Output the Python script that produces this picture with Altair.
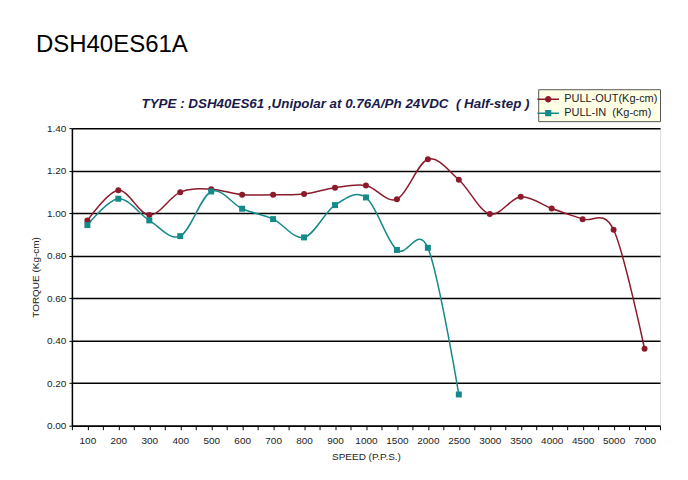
import altair as alt
import pandas as pd
import math

speeds = ["100", "200", "300", "400", "500", "600", "700", "800", "900", "1000",
          "1500", "2000", "2500", "3000", "3500", "4000", "4500", "5000", "7000"]
pull_out = [0.965, 1.108, 0.991, 1.099, 1.113, 1.087, 1.087, 1.090, 1.120, 1.130,
            1.066, 1.254, 1.157, 0.996, 1.077, 1.022, 0.972, 0.922, 0.362]
pull_in = [0.944, 1.068, 0.966, 0.892, 1.102, 1.021, 0.972, 0.886, 1.038, 1.074,
           0.827, 0.837, 0.147]
series_names = ["PULL-OUT(Kg-cm)", "PULL-IN\u00a0 (Kg-cm)"]
series_colors = ["#8B1A2B", "#168A8A"]
title_text = "DSH40ES61A"
subtitle_text = "TYPE : DSH40ES61 ,Unipolar at 0.76A/Ph 24VDC\u00a0 ( Half-step )"


def circle_path(r, k=16):
    pts = []
    for j in range(k):
        a = 2 * math.pi * j / k
        pts.append(f"{r * math.cos(a):.3f},{r * math.sin(a):.3f}")
    return "M" + "L".join(pts) + "Z"


def square_path(h):
    return f"M{-h:.3f},{-h:.3f}L{h:.3f},{-h:.3f}L{h:.3f},{h:.3f}L{-h:.3f},{h:.3f}Z"


# legend glyphs: a line with a (solid-looking) marker made of nested outlines
legend_paths = [
    "M-1.55,0L1.55,0" + "".join(circle_path(r) for r in (0.36, 0.26, 0.16, 0.06)),
    "M-1.55,0L1.55,0" + "".join(square_path(h) for h in (0.34, 0.24, 0.14, 0.05)),
]

rows = []
for i, v in enumerate(pull_out):
    rows.append({"idx": i, "speed": speeds[i], "value": v, "series": series_names[0]})
for i, v in enumerate(pull_in):
    rows.append({"idx": i, "speed": speeds[i], "value": v, "series": series_names[1]})
df = pd.DataFrame(rows)

n = len(speeds)
label_arr = "[" + ",".join("'" + s + "'" for s in speeds) + "]"
tick_vals = [k / 2 for k in range(-1, 2 * n)]

font = "Liberation Sans"

x_enc = alt.X("idx:Q",
              scale=alt.Scale(domain=[-0.5, n - 0.5], nice=False, zero=False),
              axis=alt.Axis(values=tick_vals, tickCount=len(tick_vals) + 2,
                            labelExpr=f"datum.value % 1 === 0 ? {label_arr}[datum.value] : ''",
                            title="SPEED (P.P.S.)", grid=False, tickSize=4,
                            tickColor="black", domainColor="black", domainWidth=1.5,
                            labelOverlap=False, labelFlush=False, labelPadding=6,
                            labelFont=font, labelFontSize=10, labelColor="#222",
                            titleFont=font, titleFontSize=10, titleFontWeight="normal",
                            titleColor="#222", titlePadding=6))
y_enc = alt.Y("value:Q",
              scale=alt.Scale(domain=[0, 1.4], nice=False),
              axis=alt.Axis(values=[0, 0.2, 0.4, 0.6, 0.8, 1.0, 1.2, 1.4], format=".2f",
                            title="TORQUE (Kg-cm)", grid=True, gridColor="black",
                            gridWidth=1.5, tickSize=3, tickColor="black",
                            domainColor="black", domainWidth=1.5, labelPadding=3,
                            labelFont=font, labelFontSize=10, labelColor="#222",
                            titleFont=font, titleFontSize=10, titleFontWeight="normal",
                            titleColor="#222", titlePadding=6))
color_enc = alt.Color("series:N", scale=alt.Scale(domain=series_names, range=series_colors),
                      legend=None)

base = alt.Chart(df)

lines = base.mark_line(interpolate="cardinal", strokeWidth=1.5).encode(
    x=x_enc, y=y_enc, color=color_enc, detail="series:N")

pts_out = base.transform_filter(alt.datum.series == series_names[0]).mark_point(
    shape="circle", filled=True, size=36, opacity=1).encode(x="idx:Q", y="value:Q", color=color_enc)
pts_in = base.transform_filter(alt.datum.series == series_names[1]).mark_point(
    shape="square", filled=True, size=36, opacity=1).encode(x="idx:Q", y="value:Q", color=color_enc)

legend_layer = base.mark_point(filled=True, opacity=0).encode(
    x="idx:Q", y="value:Q",
    fill=alt.Fill("series:N", scale=alt.Scale(domain=series_names, range=series_colors),
                  legend=alt.Legend(title=None, orient="none", legendX=467, legendY=-39,
                                    fillColor="#FFFFE6", strokeColor="#555", padding=2,
                                    labelFont=font, labelFontSize=11, labelColor="#222",
                                    symbolSize=196, symbolStrokeWidth=1.5, labelOffset=8,
                                    rowPadding=0, symbolOpacity=1)),
    stroke=alt.Stroke("series:N", scale=alt.Scale(domain=series_names, range=series_colors)),
    shape=alt.Shape("series:N", scale=alt.Scale(domain=series_names, range=legend_paths)),
)

texts = alt.Chart(pd.DataFrame({"t": [title_text]})).mark_text(
    align="left", baseline="alphabetic", font=font, fontSize=24, color="black"
).encode(x=alt.value(-36), y=alt.value(-76), text="t:N")

sub = alt.Chart(pd.DataFrame({"t": [subtitle_text]})).mark_text(
    align="center", baseline="alphabetic", font=font, fontSize=13.4, fontWeight="bold",
    fontStyle="italic", color="#1A1A4A"
).encode(x=alt.value(264), y=alt.value(-20), text="t:N")

chart = alt.layer(legend_layer, lines, pts_out, pts_in, texts, sub).properties(
    width=589, height=298,
    autosize=alt.AutoSizeParams(type="none"),
    padding={"left": 64, "top": 120, "right": 20, "bottom": 40},
).configure_view(stroke="black", strokeWidth=1.5).configure(background="white")

chart.save("out.html", embed_options={"renderer": "svg", "actions": False})
